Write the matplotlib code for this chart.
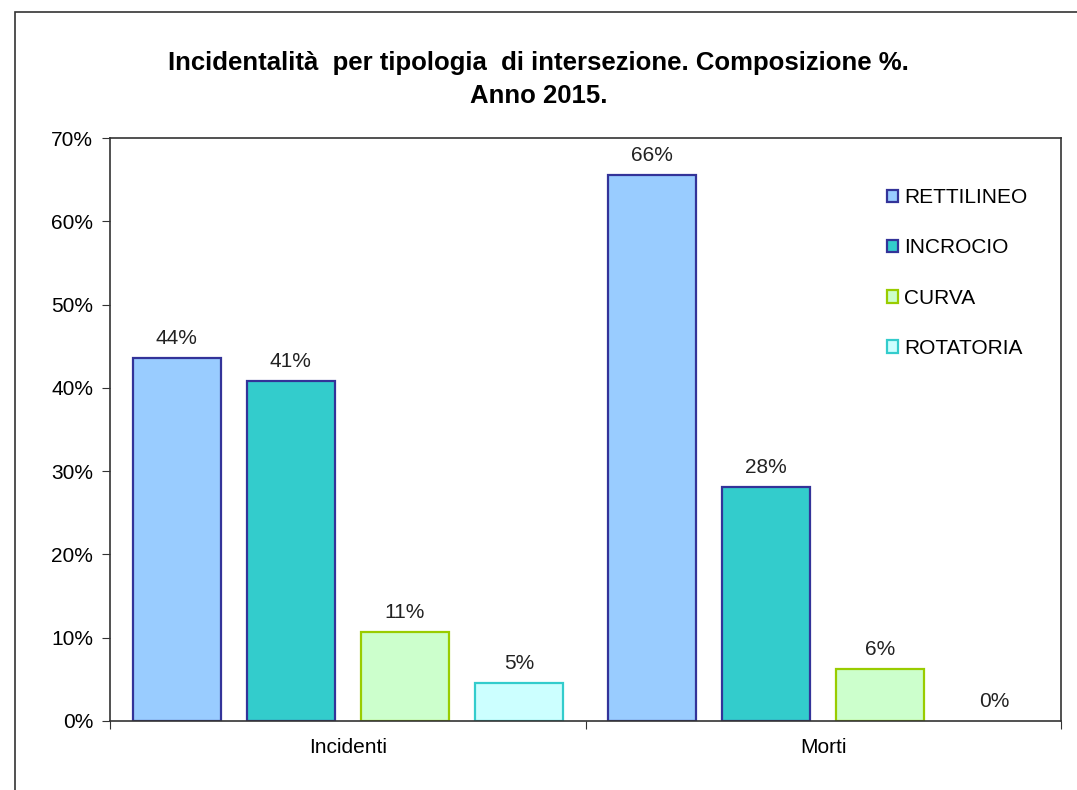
import numpy as np
from matplotlib import pyplot as plt
from matplotlib import patches as mp

plt.rcParams['font.family'] = ['Liberation Sans', 'DejaVu Sans']

categories = ['Incidenti', 'Morti']
series = ['RETTILINEO', 'INCROCIO', 'CURVA', 'ROTATORIA']
values = {
    'RETTILINEO': [43.6, 65.5],
    'INCROCIO': [40.8, 28.1],
    'CURVA': [10.7, 6.2],
    'ROTATORIA': [4.6, 0.0],
}
labels = {
    'RETTILINEO': ['44%', '66%'],
    'INCROCIO': ['41%', '28%'],
    'CURVA': ['11%', '6%'],
    'ROTATORIA': ['5%', '0%'],
}
faces = ['#99CCFF', '#33CCCC', '#CCFFCC', '#CCFFFF']
edges = ['#333399', '#333399', '#99CC00', '#33CCCC']

fig = plt.figure(figsize=(10.77, 7.9), dpi=100)
fig.patches.append(mp.Rectangle((15 / 1077, -0.1), 1.2, 1.1 - 12 / 790, transform=fig.transFigure,
                                fill=False, edgecolor='#333333', linewidth=1.2, zorder=0))
ax = fig.add_axes([110 / 1077, 1 - 721 / 790, 951 / 1077, 583 / 790])

x = np.arange(len(categories))
step = 0.24
width = 0.185
for i, s in enumerate(series):
    pos = x + (i - 1.5) * step
    lw = [1.6 if v > 0 else 0 for v in values[s]]
    ax.bar(pos, values[s], width, color=faces[i], edgecolor=edges[i], linewidth=lw, label=s)
    for p, v, t in zip(pos, values[s], labels[s]):
        ax.text(p, v + 1.2, t, ha='center', va='bottom', fontsize=15, color='#222222')

ax.set_xlim(-0.5, 1.5)
ax.set_ylim(0, 70)
ax.set_yticks(np.arange(0, 71, 10))
ax.set_yticklabels(['%d%%' % t for t in range(0, 71, 10)])
ax.set_xticks([-0.5, 0.5, 1.5])
ax.set_xticklabels([])
ax.set_xticks(x, minor=True)
ax.set_xticklabels(categories, minor=True)
ax.tick_params(axis='x', which='minor', length=0, pad=12, labelsize=15)
ax.tick_params(axis='x', which='major', length=6, direction='out', color='#333333')
ax.tick_params(axis='y', length=6, direction='out', labelsize=15, pad=6, color='#333333')
for sp in ax.spines.values():
    sp.set_color('#333333')
    sp.set_linewidth(1.2)

fig.text(0.5, 1 - 63 / 790, 'Incidentalità  per tipologia  di intersezione. Composizione %.',
         ha='center', va='center', fontsize=18.5, fontweight='bold')
fig.text(0.5, 1 - 96 / 790, 'Anno 2015.', ha='center', va='center', fontsize=18.5, fontweight='bold')

leg = ax.legend(loc='upper left', bbox_to_anchor=(0.797, 0.946), frameon=False, fontsize=15,
                handlelength=0.55, handleheight=0.55, handletextpad=0.3, labelspacing=1.5)

plt.savefig('out.png', dpi=100)
